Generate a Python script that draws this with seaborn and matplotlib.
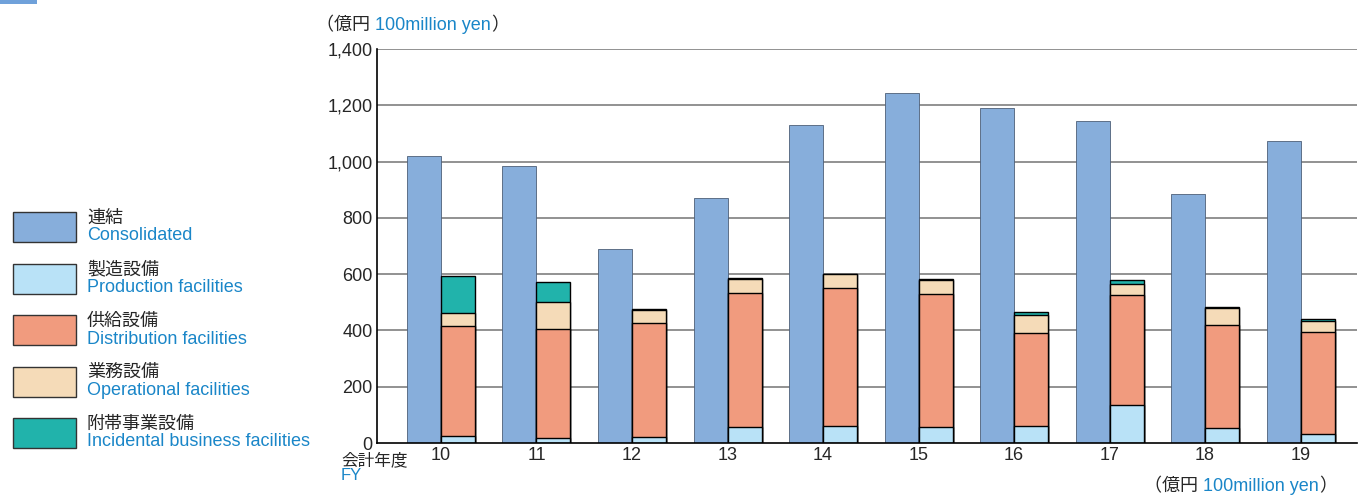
import pandas as pd
import seaborn as sns
import matplotlib.pyplot as plt
from matplotlib.patches import Rectangle

# 数据 (億円)
years = ["10", "11", "12", "13", "14", "15", "16", "17", "18", "19"]
consolidated = [1020, 984, 689, 871, 1130, 1244, 1190, 1144, 885, 1073]
production = [26, 17, 22, 56, 60, 56, 59, 135, 54, 31]
distribution = [390, 387, 405, 477, 490, 475, 333, 390, 365, 363]
operational = [45, 98, 44, 50, 51, 50, 63, 39, 60, 40]
incidental = [132, 71, 4, 4, 0, 3, 9, 14, 5, 7]

ja_names = ["連結", "製造設備", "供給設備", "業務設備", "附帯事業設備"]
en_names = ["Consolidated", "Production facilities", "Distribution facilities",
            "Operational facilities", "Incidental business facilities"]
colors = ["#87aedb", "#b9e2f7", "#f19b7e", "#f5dbb8", "#21b3ab"]
blue_txt = "#1a86c8"

sns.set_style("white")
plt.rcParams['font.family'] = ['Liberation Sans', 'Noto Sans CJK JP', 'DejaVu Sans']

fig = plt.figure(figsize=(13.59, 4.95), dpi=100)
ax = fig.add_axes([0.2774, 0.105, 0.9985 - 0.2774, 0.901 - 0.105])

order = ["c", "b"]

# 連結 (左の棒)
df_c = pd.DataFrame({"year": years, "group": "c", "value": consolidated})
sns.barplot(data=df_c, x="year", y="value", hue="group", hue_order=order,
            palette={"c": colors[0], "b": colors[0]}, dodge=True, gap=0,
            width=0.712, saturation=1, edgecolor="#4d5f78", linewidth=0.6,
            legend=False, ax=ax)

# 内訳 (右の積み上げ棒) - 累積を大きい順に重ねる
layers = [production, distribution, operational, incidental]
cum = []
run = [0] * len(years)
for layer in layers:
    run = [a + b for a, b in zip(run, layer)]
    cum.append(run)
for vals, col in zip(reversed(cum), reversed(colors[1:])):
    df_b = pd.DataFrame({"year": years, "group": "b", "value": vals})
    sns.barplot(data=df_b, x="year", y="value", hue="group", hue_order=order,
                palette={"c": col, "b": col}, dodge=True, gap=0,
                width=0.712, saturation=1, edgecolor="black", linewidth=1.0,
                legend=False, ax=ax)

ax.set_xlim(-0.67, 9.59)
ax.set_ylim(0, 1400)
ax.set_yticks(range(0, 1401, 200))
ax.set_yticklabels([f"{v:,}" for v in range(0, 1401, 200)], fontsize=13)
ax.set_xticks(range(len(years)))
ax.set_xticklabels(years, fontsize=13)
ax.set_xticks([i + 0.47 for i in range(len(years))], minor=True)
ax.tick_params(axis="x", which="major", length=0, pad=3)
ax.tick_params(axis="x", which="minor", direction="in", length=8, width=1, color="black")
ax.tick_params(axis="y", direction="in", length=9, width=1, color="black", pad=3)
ax.set_xlabel("")
ax.set_ylabel("")
for y in range(200, 1401, 200):
    ax.axhline(y, color="#7f7f7f", lw=1.2, zorder=0)
for s in ["top", "right"]:
    ax.spines[s].set_visible(False)
ax.spines["left"].set_color("black")
ax.spines["bottom"].set_color("black")
ax.spines["left"].set_linewidth(1.2)
ax.spines["bottom"].set_linewidth(1.2)


def unit_label(x, y):
    # 黒と青の文字を横に並べる
    t1 = fig.text(x, y, "（億円 ", fontsize=13, va="center")
    t2 = ax.annotate("100million yen", xy=(1, 0.5), xycoords=t1, va="center",
                     fontsize=13, color=blue_txt, annotation_clip=False)
    ax.annotate("）", xy=(1, 0.5), xycoords=t2, va="center", fontsize=13,
                annotation_clip=False)


# 単位
unit_label(0.2325, 0.948)
unit_label(0.842, 0.017)

fig.text(0.251, 0.070, "会計年度", fontsize=12, va="center")
fig.text(0.251, 0.039, "FY", fontsize=12, color=blue_txt, va="center")

# 凡例
for i, (ja, en, col) in enumerate(zip(ja_names, en_names, colors)):
    top = 212 + i * 51.5
    fig.patches.append(Rectangle((13 / 1359, 1 - (top + 30) / 495), 63 / 1359, 30 / 495,
                                 transform=fig.transFigure, facecolor=col,
                                 edgecolor="#333333", lw=1.0))
    fig.text(87 / 1359, 1 - (top + 6) / 495, ja, fontsize=13, va="center")
    fig.text(87 / 1359, 1 - (top + 24) / 495, en, fontsize=13, color=blue_txt, va="center")

fig.patches.append(Rectangle((0, 1 - 4 / 495), 37 / 1359, 4 / 495,
                             transform=fig.transFigure, facecolor="#6fa1da", lw=0))

fig.savefig("out.png", dpi=100)
